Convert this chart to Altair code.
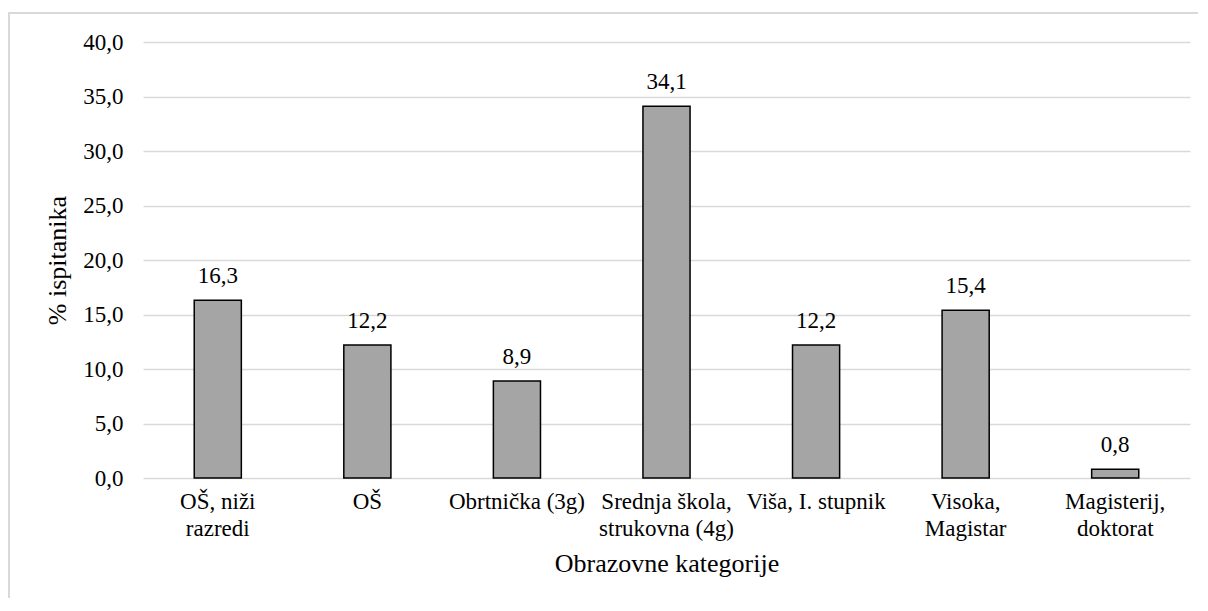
import altair as alt
import pandas as pd

categories = [
    "OŠ, niži\nrazredi",
    "OŠ",
    "Obrtnička (3g)",
    "Srednja škola,\nstrukovna (4g)",
    "Viša, I. stupnik",
    "Visoka,\nMagistar",
    "Magisterij,\ndoktorat",
]
values = [16.3, 12.2, 8.9, 34.1, 12.2, 15.4, 0.8]
y_ticks = [0, 5, 10, 15, 20, 25, 30, 35, 40]

df = pd.DataFrame({"cat": categories, "val": values})

FONT = "'Liberation Serif', 'Times New Roman', serif"

x_enc = alt.X(
    "cat:N",
    sort=categories,
    scale=alt.Scale(paddingInner=0.685, paddingOuter=0.3425),
    axis=alt.Axis(
        title="Obrazovne kategorije",
        labelExpr="split(datum.label, '\\n')",
        labelAngle=0,
        labelFont=FONT,
        labelFontSize=23,
        labelLineHeight=27,
        labelPadding=12,
        labelBaseline="top",
        ticks=False,
        domain=False,
        titleFont=FONT,
        titleFontSize=26,
        titleFontWeight="normal",
        titlePadding=10,
    ),
)
y_enc = alt.Y(
    "val:Q",
    scale=alt.Scale(domain=[0, 40], nice=False),
    axis=alt.Axis(
        title="% ispitanika",
        values=y_ticks,
        labelExpr="replace(format(datum.value, '.1f'), '.', ',')",
        labelFont=FONT,
        labelFontSize=23,
        labelPadding=20,
        ticks=False,
        domain=False,
        grid=True,
        gridColor="#d9d9d9",
        gridWidth=1.5,
        titleFont=FONT,
        titleFontSize=26,
        titleFontWeight="normal",
        titlePadding=12,
    ),
)

base = alt.Chart(df)

bars = base.mark_bar(color="#a5a5a5", stroke="black", strokeWidth=1.5).encode(
    x=x_enc, y=y_enc
)

labels = (
    base.transform_calculate(lbl="replace(format(datum.val, '.1f'), '.', ',')")
    .mark_text(fontSize=23, baseline="alphabetic", dy=-17, color="black", font=FONT)
    .encode(x=alt.X("cat:N", sort=categories), y="val:Q", text="lbl:N")
)

frame_data = alt.Data(values=[{"a": 1}])
left_border = alt.Chart(frame_data).mark_rule(color="#d9d9d9", strokeWidth=2).encode(
    x=alt.value(-134), y=alt.value(-29), y2=alt.value(560)
)
top_border = alt.Chart(frame_data).mark_rule(color="#d9d9d9", strokeWidth=2).encode(
    x=alt.value(-135), x2=alt.value(1055), y=alt.value(-29)
)

chart = (
    alt.layer(left_border, top_border, bars, labels)
    .properties(
        width=1047,
        height=436,
        autosize=alt.AutoSizeParams(type="none"),
        padding={"left": 135, "top": 34, "right": 8, "bottom": 120},
    )
    .configure(font=FONT)
    .configure_axis(labelColor="black", titleColor="black")
    .configure_view(stroke=None)
)

chart.save("out.html", embed_options={"renderer": "svg", "actions": False})
